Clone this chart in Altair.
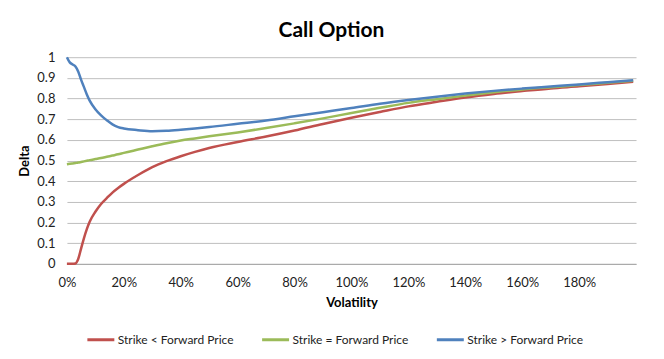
import altair as alt
import pandas as pd

vol = [0, 1, 2, 3, 4, 5, 6, 7, 8, 10, 12, 14, 16, 18, 20, 25, 30, 35, 40, 45, 50,
       60, 70, 80, 90, 100, 110, 120, 130, 140, 150, 160, 170, 180, 190, 199]

strike_below = [0, 0, 0, 0.002, 0.025, 0.075, 0.125, 0.168, 0.204, 0.252, 0.29, 0.318,
                0.345, 0.367, 0.387, 0.43, 0.468, 0.497, 0.521, 0.542, 0.561,
                0.59, 0.616, 0.645, 0.677, 0.707, 0.735, 0.762, 0.784, 0.805, 0.822,
                0.836, 0.849, 0.859, 0.87, 0.881]
strike_equal = [0.482, 0.484, 0.486, 0.488, 0.49, 0.493, 0.496, 0.499, 0.502, 0.507, 0.512,
                0.518, 0.524, 0.53, 0.537, 0.553, 0.569, 0.584, 0.597, 0.607, 0.617,
                0.636, 0.657, 0.68, 0.704, 0.73, 0.755, 0.779, 0.797, 0.814, 0.83,
                0.844, 0.855, 0.865, 0.876, 0.886]
strike_above = [1.0, 0.975, 0.965, 0.955, 0.93, 0.89, 0.855, 0.82, 0.79, 0.748, 0.718,
                0.695, 0.675, 0.662, 0.655, 0.647, 0.642, 0.644, 0.649, 0.655, 0.662,
                0.678, 0.694, 0.714, 0.734, 0.754, 0.775, 0.793, 0.809, 0.824, 0.837,
                0.848, 0.858, 0.868, 0.879, 0.889]

series_names = ["Strike < Forward Price", "Strike = Forward Price", "Strike > Forward Price"]
series_colors = ["#C0504D", "#9BBB59", "#4F81BD"]
x_ticks = [0, 0.2, 0.4, 0.6, 0.8, 1.0, 1.2, 1.4, 1.6, 1.8]
y_ticks = [0, 0.1, 0.2, 0.3, 0.4, 0.5, 0.6, 0.7, 0.8, 0.9, 1.0]

rows = []
for i, (name, vals) in enumerate(zip(series_names, [strike_below, strike_equal, strike_above])):
    for v, d in zip(vol, vals):
        rows.append({"Volatility": v / 100.0, "Delta": d, "Series": name, "order": i})
df = pd.DataFrame(rows)

FONT = "Lato"

chart = alt.Chart(df).mark_line(strokeWidth=2.5, interpolate="monotone").encode(
    x=alt.X("Volatility:Q",
            scale=alt.Scale(domain=[0, 2.0], nice=False, zero=False),
            axis=alt.Axis(values=x_ticks, format=".0%", grid=False, ticks=False,
                          labelFlush=False,
                          domainColor="#A6A6A6", labelPadding=13, title="Volatility",
                          titlePadding=7)),
    y=alt.Y("Delta:Q",
            scale=alt.Scale(domain=[0, 1.0], nice=False),
            axis=alt.Axis(values=y_ticks, format=".1~f", grid=True, ticks=False,
                          domain=False, labelPadding=12, title="Delta", titlePadding=5)),
    color=alt.Color("Series:N",
                    scale=alt.Scale(domain=series_names, range=series_colors),
                    legend=alt.Legend(title=None, orient="none", direction="horizontal",
                                      columns=3, legendX=19, legendY=268,
                                      symbolType="stroke", symbolSize=729,
                                      symbolStrokeWidth=3, labelOffset=2,
                                      columnPadding=22, padding=0)),
    order="order:Q",
    detail="Series:N",
).properties(
    width=570,
    height=207,
    title=alt.TitleParams("Call Option", fontSize=21, font=FONT, fontWeight="bold",
                          anchor="middle", dx=-20, offset=10, color="#000000"),
    autosize=alt.AutoSizeParams(type="none"),
    padding={"left": 59, "top": 49, "right": 20, "bottom": 90},
).configure_view(
    stroke=None
).configure_axis(
    labelFont=FONT, labelFontSize=13, labelColor="#222222",
    titleFont=FONT, titleFontSize=13, titleFontWeight="bold", titleColor="#000000",
    gridColor="#BFBFBF", gridWidth=1,
).configure_legend(
    labelFont=FONT, labelFontSize=12, labelColor="#222222"
)

chart.save("out.html", embed_options={"renderer": "svg", "actions": False})
